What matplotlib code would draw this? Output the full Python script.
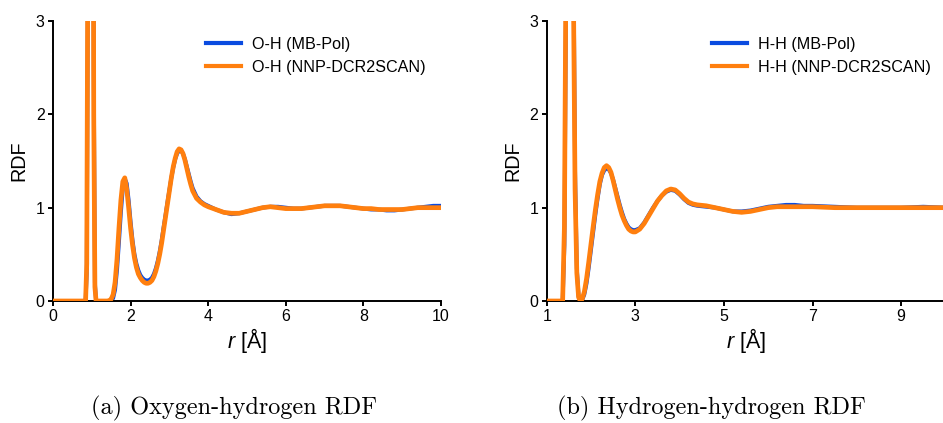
import matplotlib
matplotlib.use("Agg")
import matplotlib.pyplot as plt

# ---------------- data ----------------
r_oh = [0.00, 0.84, 0.87, 0.90, 0.93, 0.96, 0.99, 1.02, 1.05, 1.08, 1.11,
        1.40, 1.45, 1.50, 1.55, 1.60, 1.65, 1.70, 1.75, 1.80, 1.85,
        1.90, 1.95, 2.00, 2.05, 2.10, 2.15, 2.20, 2.25, 2.30, 2.35,
        2.40, 2.45, 2.50, 2.55, 2.60, 2.65, 2.70, 2.75, 2.80, 2.85,
        2.90, 2.95, 3.00, 3.05, 3.10, 3.15, 3.20, 3.25, 3.30, 3.35,
        3.40, 3.45, 3.50, 3.55, 3.60,
        3.70, 3.80, 3.90, 4.00,
        4.2, 4.4, 4.6, 4.8, 5.0, 5.2, 5.4, 5.6, 5.8, 6.0,
        6.2, 6.4, 6.6, 6.8, 7.0, 7.2, 7.4, 7.6, 7.8, 8.0,
        8.2, 8.4, 8.6, 8.8, 9.0, 9.2, 9.4, 9.6, 9.8, 10.0]
g_oh_mbpol = [0, 0, 0.3, 3.5, 14, 24, 22, 10, 2.5, 0.2, 0,
              0, 0, 0.005, 0.03, 0.12, 0.33, 0.63, 0.95, 1.21, 1.31,
              1.26, 1.08, 0.85, 0.65, 0.50, 0.40, 0.33, 0.28, 0.25, 0.23,
              0.22, 0.22, 0.23, 0.25, 0.29, 0.35, 0.43, 0.53, 0.65, 0.79,
              0.92, 1.06, 1.19, 1.32, 1.43, 1.52, 1.58, 1.61, 1.61, 1.58,
              1.52, 1.44, 1.36, 1.28, 1.21,
              1.12, 1.07, 1.04, 1.02,
              0.98, 0.95, 0.93, 0.94, 0.96, 0.98, 1.00, 1.01, 1.01, 1.00,
              0.99, 0.99, 1.00, 1.01, 1.02, 1.02, 1.02, 1.01, 1.00, 0.99,
              0.98, 0.98, 0.97, 0.97, 0.98, 0.99, 1.00, 1.01, 1.02, 1.02]
g_oh_nnp = [0, 0, 0.4, 4, 15, 25, 21, 9, 2, 0.15, 0,
            0, 0.005, 0.02, 0.07, 0.20, 0.45, 0.78, 1.08, 1.28, 1.32,
            1.20, 1.00, 0.78, 0.60, 0.46, 0.36, 0.29, 0.25, 0.22, 0.20,
            0.19, 0.19, 0.20, 0.22, 0.26, 0.32, 0.40, 0.50, 0.62, 0.76,
            0.90, 1.04, 1.18, 1.32, 1.44, 1.53, 1.60, 1.63, 1.62, 1.58,
            1.51, 1.42, 1.33, 1.25, 1.18,
            1.10, 1.06, 1.03, 1.01,
            0.98, 0.95, 0.94, 0.94, 0.96, 0.98, 1.00, 1.01, 1.00, 0.99,
            0.99, 0.99, 1.00, 1.01, 1.02, 1.02, 1.02, 1.01, 1.00, 0.99,
            0.99, 0.98, 0.98, 0.98, 0.98, 0.99, 1.00, 1.00, 1.00, 1.00]

r_hh = [1.00, 1.36, 1.40, 1.44, 1.48, 1.52, 1.56, 1.60, 1.64, 1.68, 1.72, 1.76,
        1.80, 1.85, 1.90, 1.95, 2.00, 2.05, 2.10, 2.15, 2.20, 2.25, 2.30, 2.35,
        2.40, 2.45, 2.50, 2.55, 2.60, 2.65, 2.70, 2.75, 2.80, 2.85, 2.90, 2.95, 3.00,
        3.10, 3.20, 3.30, 3.40, 3.50, 3.60, 3.70, 3.80, 3.90, 4.00, 4.10, 4.20, 4.30, 4.40,
        4.6, 4.8, 5.0, 5.2, 5.4, 5.6, 5.8, 6.0, 6.2, 6.4, 6.6, 6.8, 7.0,
        7.5, 8.0, 8.5, 9.0, 9.5, 10.0]
g_hh_mbpol = [0, 0, 0.6, 3.5, 8.5, 11, 8.5, 4, 1.4, 0.35, 0.05, 0.0,
              0.01, 0.07, 0.19, 0.36, 0.55, 0.74, 0.93, 1.10, 1.25, 1.35, 1.40, 1.42,
              1.41, 1.37, 1.30, 1.21, 1.12, 1.03, 0.95, 0.88, 0.83, 0.79, 0.77, 0.76, 0.76,
              0.78, 0.84, 0.92, 1.00, 1.07, 1.13, 1.17, 1.19, 1.18, 1.14, 1.09, 1.05, 1.03, 1.02,
              1.01, 1.00, 0.98, 0.96, 0.96, 0.97, 0.99, 1.01, 1.02, 1.03, 1.03, 1.02, 1.02,
              1.01, 1.00, 1.00, 1.00, 1.01, 1.00]
g_hh_nnp = [0, 0, 0.8, 4, 9, 11, 8, 3.5, 1.2, 0.3, 0.04, 0.0,
            0.02, 0.10, 0.24, 0.42, 0.61, 0.80, 0.98, 1.14, 1.28, 1.37, 1.43, 1.45,
            1.43, 1.38, 1.29, 1.19, 1.09, 1.00, 0.92, 0.86, 0.81, 0.77, 0.75, 0.74, 0.74,
            0.77, 0.83, 0.91, 0.99, 1.07, 1.13, 1.18, 1.20, 1.19, 1.15, 1.10, 1.06, 1.04, 1.03,
            1.02, 1.00, 0.98, 0.96, 0.95, 0.96, 0.98, 1.00, 1.01, 1.01, 1.01, 1.01, 1.01,
            1.00, 1.00, 1.00, 1.00, 1.00, 1.00]

labels_oh = ["O-H (MB-Pol)", "O-H (NNP-DCR2SCAN)"]
labels_hh = ["H-H (MB-Pol)", "H-H (NNP-DCR2SCAN)"]
captions = ["(a) Oxygen-hydrogen RDF", "(b) Hydrogen-hydrogen RDF"]

assert len(r_oh) == len(g_oh_mbpol) == len(g_oh_nnp)
assert len(r_hh) == len(g_hh_mbpol) == len(g_hh_nnp)

# ---------------- style ----------------
plt.rcParams['font.family'] = ['Liberation Sans', 'DejaVu Sans']
plt.rcParams['mathtext.fontset'] = 'custom'
plt.rcParams['mathtext.it'] = 'Liberation Sans:italic'
plt.rcParams['mathtext.rm'] = 'Liberation Sans'

BLUE = '#0a4be0'
ORANGE = '#ff7f0e'

fig = plt.figure(figsize=(9.43, 4.23), dpi=100)
ax1 = fig.add_axes([53/943, 1-301/423, 388/943, 280/423])
ax2 = fig.add_axes([546.7/943, 1-301/423, 398.7/943, 280/423])

def style(ax, xlim, xticks, r, g1, g2, labels, legx):
    ax.plot(r, g1, color=BLUE, lw=2.8, label=labels[0], zorder=2)
    ax.plot(r, g2, color=ORANGE, lw=3.4, label=labels[1], zorder=3)
    ax.set_xlim(*xlim)
    ax.set_ylim(0, 3)
    ax.set_xticks(xticks)
    ax.set_yticks([0, 1, 2, 3])
    for s in ['top', 'right']:
        ax.spines[s].set_visible(False)
    for s in ['left', 'bottom']:
        ax.spines[s].set_linewidth(1.4)
    ax.tick_params(direction='out', length=3.6, width=1.4, labelsize=11.5, pad=2.5)
    ax.set_ylabel('RDF', fontsize=14.2, labelpad=5)
    ax.set_xlabel(r'$r$ [Å]', fontsize=15.5, labelpad=1)
    leg = ax.legend(loc='upper left', bbox_to_anchor=(legx, 0.943), frameon=False,
                    fontsize=11.6, handlelength=2.2, handletextpad=0.65,
                    labelspacing=0.5, borderaxespad=0, borderpad=0)
    for h in leg.get_lines():
        h.set_linewidth(3.0)

style(ax1, (0, 10), [0, 2, 4, 6, 8, 10], r_oh, g_oh_mbpol, g_oh_nnp, labels_oh, (206-53)/388)
style(ax2, (1, 10), [1, 3, 5, 7, 9], r_hh, g_hh_mbpol, g_hh_nnp, labels_hh, (712-546.7)/398.7)

fig.text(234/943, 1-408/423, captions[0], family='cmr10', fontsize=17.5, ha='center', va='center')
fig.text(711/943, 1-408/423, captions[1], family='cmr10', fontsize=17.5, ha='center', va='center')

fig.savefig('out.png', dpi=100)
